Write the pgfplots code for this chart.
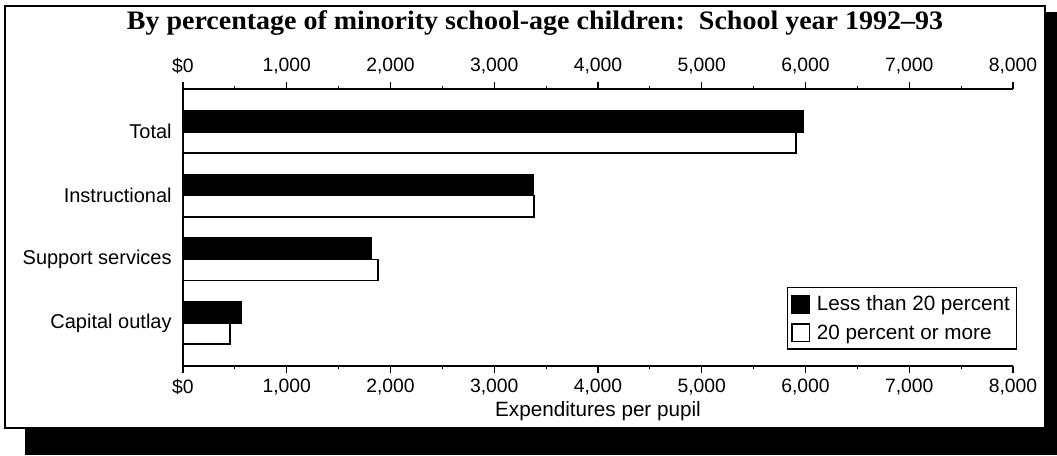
\documentclass[border=0pt]{standalone}
\usepackage{pgfplots}
\pgfplotsset{compat=1.18}
\usepackage{fontspec}
\setmainfont{Liberation Sans}
\newfontfamily\titlefont[Ligatures=TeX]{Liberation Serif}
\begin{document}
\begin{tikzpicture}
\useasboundingbox (-137.25pt,-66.75pt) rectangle (655.5pt,274.5pt);
\fill[white] (-137.25pt,-66.75pt) rectangle (655.5pt,274.5pt);
\fill[black] (-118.5pt,-66.75pt) rectangle (655.5pt,-46.5pt);
\fill[black] (646.5pt,-66.75pt) rectangle (655.5pt,265.5pt);
\draw[line width=1.2pt,fill=white] (-133.5pt,-46.5pt) rectangle (646.5pt,270pt);
\node[font=\titlefont\bfseries\fontsize{20}{22}\selectfont] at (264pt,257pt) {\scalebox{1.05}[1]{By percentage of minority school-age children:\ \ School year 1992–93}};
\begin{axis}[at={(0,0)}, anchor=south west, scale only axis,
  width=622.5pt, height=207.75pt,
  xbar, xmin=0, xmax=8000, ymin=-0.67, ymax=3.67, y dir=reverse,
  axis x line=box, axis y line=left,
  axis line style={-, line width=1.6pt},
  xtick={0,1000,...,8000},
  xticklabels={\$0,{1,000},{2,000},{3,000},{4,000},{5,000},{6,000},{7,000},{8,000}},
  minor x tick num=1,
  tick align=outside,
  major tick length=5pt, minor tick length=2.5pt,
  x tick style={line width=0.8pt, black},
  ytick={0,1,2,3},
  yticklabels={Total,Instructional,Support services,Capital outlay},
  y tick style={draw=none},
  xticklabel style={font=\fontsize{14.5}{16}\selectfont, yshift=-1.5pt},
  yticklabel style={font=\fontsize{15}{17}\selectfont},
  xlabel={Expenditures per pupil},
  xlabel style={font=\fontsize{15.5}{17}\selectfont, yshift=2pt},
  bar width=0.33,
  legend style={at={(1.005,0.285)}, anchor=north east, draw=black, line width=0.8pt,
    font=\fontsize{15.5}{17}\selectfont, row sep=5pt, inner xsep=3pt, inner ysep=4pt},
  legend cell align=left,
  legend image code/.code={\draw[#1, line width=1.3pt] (0pt,-6.5pt) rectangle (13pt,6.5pt); \path (16pt,0pt);},
]
\addplot[fill=black, draw=black, line width=1.3pt, bar shift=-0.165] coordinates {(5980,0) (3370,1) (1810,2) (560,3)};
\addplot[fill=white, draw=black, line width=1.3pt, bar shift=0.165] coordinates {(5910,0) (3380,1) (1880,2) (450,3)};
\legend{Less than 20 percent, 20 percent or more}
\end{axis}
\begin{axis}[at={(0,0)}, anchor=south west, scale only axis,
  width=622.5pt, height=207.75pt,
  xmin=0, xmax=8000, ymin=0, ymax=1,
  axis line style={draw=none}, tick style={draw=none},
  xticklabel pos=upper, ytick=\empty,
  xtick={0,1000,...,8000},
  xticklabels={\$0,{1,000},{2,000},{3,000},{4,000},{5,000},{6,000},{7,000},{8,000}},
  xticklabel style={font=\fontsize{14.5}{16}\selectfont, yshift=8pt},
]
\addplot[draw=none] coordinates {(0,0)};
\end{axis}
\end{tikzpicture}
\end{document}
